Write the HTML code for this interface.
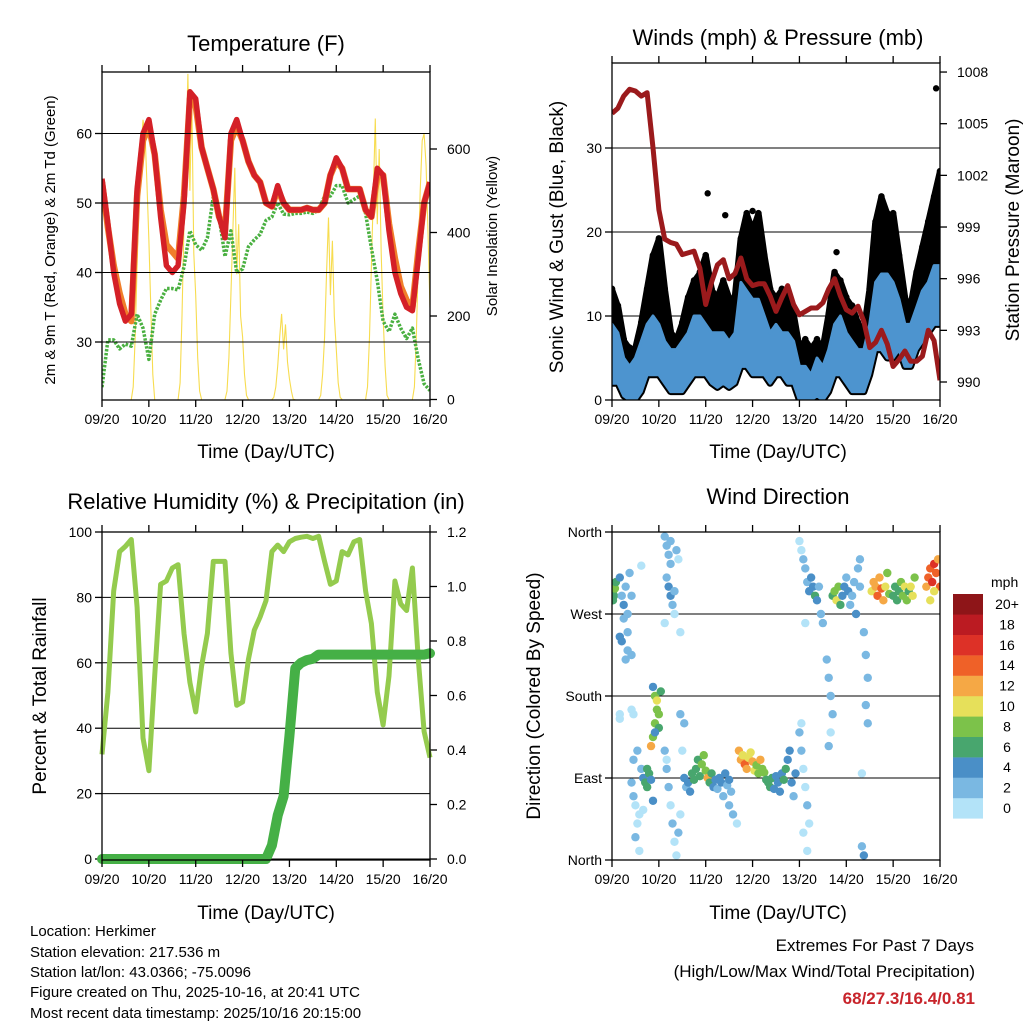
<!DOCTYPE html>
<html><head><meta charset="utf-8"><style>
html,body{margin:0;padding:0;background:#fff;}
svg{display:block;font-family:"Liberation Sans",Arial,sans-serif;}
</style></head><body>
<svg id="fig" width="1024" height="1024" viewBox="0 0 1024 1024" xmlns="http://www.w3.org/2000/svg">
<defs>
<clipPath id="cT"><rect x="102" y="72" width="328" height="328"/></clipPath>
<clipPath id="cW"><rect x="612" y="63" width="328" height="337"/></clipPath>
<clipPath id="cR"><rect x="90" y="525" width="350" height="345"/></clipPath>
<clipPath id="cD"><rect x="612" y="532" width="328" height="328"/></clipPath>
</defs>
<g id="gT"></g>
<g id="gW"></g>
<g id="gR"></g>
<g id="gD"></g>
<g font-size="22" text-anchor="middle" fill="#000">
<text x="266" y="51">Temperature (F)</text>
<text x="778" y="45">Winds (mph) &amp; Pressure (mb)</text>
<text x="266" y="509">Relative Humidity (%) &amp; Precipitation (in)</text>
<text x="778" y="504">Wind Direction</text>
</g>
<g font-size="19" text-anchor="middle">
<text x="266" y="458">Time (Day/UTC)</text>
<text x="778" y="458">Time (Day/UTC)</text>
<text x="266" y="919">Time (Day/UTC)</text>
<text x="778" y="919">Time (Day/UTC)</text>
<text font-size="15" transform="translate(55,240) rotate(-90)">2m &amp; 9m T (Red, Orange) &amp; 2m Td (Green)</text>
<text font-size="15" transform="translate(497,236) rotate(-90)">Solar Insolation (Yellow)</text>
<text transform="translate(563,237) rotate(-90)">Sonic Wind &amp; Gust (Blue, Black)</text>
<text transform="translate(1019,230) rotate(-90)">Station Pressure (Maroon)</text>
<text transform="translate(46,696) rotate(-90)">Percent &amp; Total Rainfall</text>
<text transform="translate(540,696) rotate(-90)">Direction (Colored By Speed)</text>
</g>
<g font-size="15">
<text x="30" y="936">Location: Herkimer</text>
<text x="30" y="957">Station elevation: 217.536 m</text>
<text x="30" y="977">Station lat/lon: 43.0366; -75.0096</text>
<text x="30" y="997">Figure created on Thu, 2025-10-16, at 20:41 UTC</text>
<text x="30" y="1018">Most recent data timestamp: 2025/10/16 20:15:00</text>
</g>
<g font-size="17" text-anchor="end">
<text x="974" y="951">Extremes For Past 7 Days</text>
<text x="975" y="977">(High/Low/Max Wind/Total Precipitation)</text>
<text x="975" y="1004" fill="#c8242b" font-weight="bold">68/27.3/16.4/0.81</text>
</g>
</svg>
<script>
// ---------- data (3-hourly samples from 09/20 UTC) ----------
const dayLabels = ["09/20","10/20","11/20","12/20","13/20","14/20","15/20","16/20"];
const temp2m = [53.5,47,40,35.5,33,34,52,60,62,57,48,41,40,41,50,66,65,58,55,52,48,45,60,62,59,56,54,53,50,49.5,52.5,50,49,49,49,49.3,49,49,50,54,56.5,55,52,52,52,49,48,55,54,46,40,37,35,34.5,42,50,53];
const temp9m = [53,46.5,41,37,34,33,51,59,61,57,49,44,43,42,51,65,64,58,55,52,48,46,59,61,59,56,54,53,50,49.5,52,50,49,49,49,49.3,49,49,50,54,56,55,52,52,52,49,48,54,54,47,42,38,36,35,43,50,53];
const dewpt = [23.5,30.3,30.3,29,29.7,29.4,34,32,27.5,34,36,37.7,37.7,37.5,40.8,46,44,43.2,45,50.9,48,42.3,46,40,40.5,43.7,44.7,45.5,47.5,48,50,48.4,48.3,48.5,48.5,48.7,48.5,49,51,51,52.5,52.5,50,50.5,51,48.5,43.5,38.8,33,31.5,34,32,30.5,32,27.5,24,23];
const solarDays = [
 [0,30,150,320,480,600,670,640,520,380,220,60,0],
 [0,40,200,420,600,780,500,720,350,250,100,20,0],
 [0,20,100,250,400,555,300,420,200,150,60,10,0],
 [0,5,30,80,150,205,120,180,90,50,20,0,0],
 [0,10,60,150,300,436,250,380,200,120,40,5,0],
 [0,30,150,320,500,673,420,600,350,200,80,10,0],
 [0,30,150,330,500,620,637,560,400,220,80,10,0]];
const tempTicks = [30,40,50,60];
const solarTicks = [0,200,400,600];

const windLo = [2,2,0.5,0,0,1,3,3,3,2,1,1,1,2,3,3,3,2,1.5,2,1.5,2,4,4,3,3,3,2,3,3,2,2,0,0,0,0.5,0,1,3,3,2,1,1,1,3,6,6,5,5,6,4,4,6,7,8,9,9];
const windHi = [9,8,5,4,5,7,9,10,9,7,6,6,7,8,10,10,9,8,8,8,7,8,14,13,12,12,10,8,9,8,8,7,4,4,3,5,4,6,9,10,8,7,6,6,9,14,15,15,14,12,9,9,11,13,14,16,16];
const gustHi = [13,11,7,6,6,9,13,17,19,13,8,7,9,12,14,15,17,13,12,14,12,12,19,22,20,22,17,13,12,13,12,10,6,7,6,7,6,10,15,14,12,11,9,8,13,21,24,22,22,17,12,11,15,18,21,24,27];
const gustOutT = [49, 58, 72, 115, 166];
const gustOutV = [24.6, 22, 22.5, 17.6, 37.1];
const pressure = [1005.6,1005.9,1006.6,1007,1006.9,1006.6,1006.8,1003.6,1000,998.3,998.1,998,997.4,997.5,997.6,996.6,994.5,995.8,996.8,997.1,996,996.3,997.2,996,995.6,995.7,995.7,995,994.1,994.9,995.6,994.5,993.9,994.1,994.3,994.3,994.6,995.4,996,995,994.2,994,994.4,993.5,992,992.3,993,992.2,990.9,991.3,991.8,991.2,991.2,991.5,993,992.4,990.1];
const windTicks = [0,10,20,30];
const presTicks = [990,993,996,999,1002,1005,1008];

const rh = [32,51,82,94,95.6,97.7,77,37,27,56,84,85,89,90,69,54,45,59,69,91,91,91,63,47,48,61,70,74,79,94,96,94,97,98,98.4,98.7,98,98.7,91,84,85,94,93,97,97.7,82,72,51,41,56,85,78,76,89,61,39,31];
const precip = [0,0,0,0,0,0,0,0,0,0,0,0,0,0,0,0,0,0,0,0,0,0,0,0,0,0,0,0,0,0.05,0.16,0.23,0.45,0.7,0.72,0.73,0.735,0.75,0.75,0.75,0.75,0.75,0.75,0.75,0.75,0.75,0.75,0.75,0.75,0.75,0.75,0.75,0.75,0.75,0.75,0.75,0.755];
const rhTicks = [0,20,40,60,80,100];
const prTicks = ["0.0","0.2","0.4","0.6","0.8","1.0","1.2"];

const dirT = [0,0.5,1,1.5,2,0.5,4,5,6,7,8,9,10,6,8,5,7,10,8,4,15,10,11,12,13,12,14,11,13,15,16,17,18,19,18,20,21,16,14,11,10,4,4,21,22,23,23,24,22,24,21,20,25,22,27,28,29,30,28,29,30,31,32,27,30,33,34,32,35,27,28,29,30,31,32,33,34,28,35,36,37,35,37,38,39,40,41,42,43,44,45,46,47,48,49,50,51,52,53,54,55,56,57,58,59,60,61,60,62,64,65,66,67,68,69,70,71,72,73,74,75,76,77,78,79,80,81,82,83,84,85,86,87,88,89,90,91,92,93,94,96,97,98,99,100,101,98,100,97,96,97,98,99,100,101,102,103,104,105,106,107,108,99,110,111,112,113,112,111,113,114,115,116,117,118,119,120,121,122,123,124,125,126,127,129,130,131,130,131,128,127,128,129,133,134,135,136,137,138,139,140,141,142,144,145,146,147,148,149,150,151,152,153,154,155,161,162,163,164,165,166,167,168,165,163];
const dirD = [300,295,290,298,305,285,310,290,280,300,270,315,290,265,250,240,220,225,230,245,323,85,70,60,40,25,10,110,120,100,90,85,80,95,100,88,65,55,50,160,165,155,160,190,180,175,165,160,150,145,135,125,185,140,355,345,335,325,310,300,290,280,270,260,350,340,330,295,250,120,100,80,60,40,20,5,30,110,50,120,150,160,90,80,85,75,95,88,100,110,92,105,115,98,90,85,95,80,88,78,90,85,70,95,82,88,75,60,50,40,120,110,115,105,100,112,118,108,98,104,95,110,100,96,88,85,80,90,78,92,85,75,95,88,100,110,120,85,70,95,140,120,100,80,60,40,30,10,150,350,340,330,320,305,295,310,300,290,285,300,270,260,260,220,200,180,160,140,125,290,295,285,300,280,290,300,310,295,280,290,305,270,320,300,250,225,200,170,150,95,330,15,5,295,305,300,290,310,298,285,300,315,292,290,300,285,295,305,290,300,285,295,300,290,310,300,310,320,305,325,315,330,300,295,285];
const dirS = [7,8,7,8,6,6,4,3,4,2,3,2,2,2,2,4,2,2,2,4,1,2,2,1,1,2,1,3,2,2,5,6,6,6,7,4,4,1,1,1,1,1,0,5,8,10,9,9,8,7,8,12,7,4,2,2,2,3,3,4,4,3,1,1,2,2,1,3,1,2,3,2,1,2,1,1,2,1,1,1,2,2,4,3,5,4,6,6,7,7,6,8,9,8,12,7,6,5,4,3,5,4,3,4,3,4,3,2,2,1,12,13,11,14,12,11,10,13,10,9,8,12,8,9,6,7,6,6,5,4,4,5,5,7,6,4,5,4,3,4,2,2,1,1,2,1,1,1,1,1,1,2,3,3,4,4,5,6,4,3,3,2,1,2,2,2,2,1,2,7,8,10,9,7,5,4,3,4,2,3,2,4,2,3,2,2,3,2,2,1,2,2,4,10,12,13,14,12,14,13,11,9,8,6,7,6,7,8,9,10,8,7,10,11,8,12,14,15,16,17,15,12,14,11,10];
const speedColors = ["#b3e3f8","#7ab8e2","#4a8fc7","#48a66e","#7cc24a","#e6e05a","#f5a845","#ef6128","#dd3127","#bb1b22","#8e1518"];
const speedLabels = ["0","2","4","6","8","10","12","14","16","18","20+"];
const dirTicks = [0,90,180,270,360];
const dirTickLabels = ["North","East","South","West","North"];

// ---------- helpers ----------
const NS = "http://www.w3.org/2000/svg";
function mk(parent, tag, attrs) {
  const e = document.createElementNS(NS, tag);
  for (const k in attrs) e.setAttribute(k, attrs[k]);
  parent.appendChild(e);
  return e;
}
function xAt(x0, t) { return x0 + t / 168 * 328; }
function path(pts) { return pts.map((p, i) => (i ? "L" : "M") + p[0].toFixed(1) + " " + p[1].toFixed(1)).join(""); }

function frame(g, x0, top, bottom, name) {
  const r = mk(g, "rect", {x: x0, y: top, width: 328, height: bottom - top, fill: "none", stroke: "#000", "stroke-width": 1.3});
  
  
  for (let d = 0; d < dayLabels.length; d++) {
    const x = x0 + d * 328 / 7;
    const tb = mk(g, "line", {x1: x, x2: x, y1: bottom, y2: bottom + 7, stroke: "#000", "stroke-width": 1.3});
    
    
    const tt = mk(g, "line", {x1: x, x2: x, y1: top, y2: top - 7, stroke: "#000", "stroke-width": 1.3});
    
    
    const lb = mk(g, "text", {x: x, y: bottom + 24, "font-size": 14, "text-anchor": "middle"});
    lb.textContent = dayLabels[d];
    
    
  }
}
function yAxis(g, x0, vals, labels, yf, side, grid, name) {
  vals.forEach((v, i) => {
    const y = yf(v);
    const xa = side === "left" ? x0 : x0 + 328;
    const dx = side === "left" ? -7 : 7;
    const t = mk(g, "line", {x1: xa, x2: xa + dx, y1: y, y2: y, stroke: "#000", "stroke-width": 1.3});
    
    
    if (grid) {
      const gl = mk(g, "line", {x1: x0, x2: x0 + 328, y1: y, y2: y, stroke: "#000", "stroke-width": 1});
      
      
    }
    const lb = mk(g, "text", {x: side === "left" ? x0 - 10 : x0 + 345, y: y + 5, "font-size": 14, "text-anchor": side === "left" ? "end" : "start"});
    lb.textContent = labels[i];
    
    
  });
}

// ---------- Temperature panel ----------
(function(){
  const g = document.getElementById("gT"), X0 = 102;
  const yT = v => 342 - (v - 30) * 6.95;
  const yS = w => 399.5 - w * 83.5 / 200;
  const gc = mk(g, "g", {"clip-path": "url(#cT)"});
  
  
  solarDays.forEach((day, d) => {
    const pts = [];
    day.forEach((w, i) => { const t = 4 + 24 * d + 11 + i; if (t <= 168) pts.push([xAt(X0, t), yS(w)]); });
    const p = mk(gc, "path", {d: path(pts), fill: "none", stroke: "#f7dc4f", "stroke-width": 1.1});
    
    
  });
  yAxis(g, X0, tempTicks, tempTicks, yT, "left", true, "temp-y");
  yAxis(g, X0, solarTicks, solarTicks, yS, "right", false, "solar-y");
  const dp = mk(gc, "path", {d: path(dewpt.map((v, i) => [xAt(X0, i * 3), yT(v)])), fill: "none", stroke: "#4ab041", "stroke-width": 3.5, "stroke-dasharray": "2.5 1.5", "stroke-linejoin": "round"});
  
  
  const o = mk(gc, "path", {d: path(temp9m.map((v, i) => [xAt(X0, i * 3), yT(v)])), fill: "none", stroke: "#f07e2a", "stroke-width": 6.5, "stroke-linejoin": "round"});
  
  
  const r = mk(gc, "path", {d: path(temp2m.map((v, i) => [xAt(X0, i * 3), yT(v)])), fill: "none", stroke: "#d42027", "stroke-width": 5.5, "stroke-linejoin": "round"});
  
  
  frame(g, X0, 72, 400, "temperature");
})();

// ---------- Winds panel ----------
(function(){
  const g = document.getElementById("gW"), X0 = 612;
  const yW = v => 400 - v * 8.4;
  const yP = p => 382 - (p - 990) * 17.22;
  yAxis(g, X0, windTicks, windTicks, yW, "left", true, "wind-y");
  yAxis(g, X0, presTicks, presTicks, yP, "right", false, "pressure-y");
  const gc = mk(g, "g", {"clip-path": "url(#cW)"});
  
  
  const top = gustHi.map((v, i) => [xAt(X0, i * 3), yW(v)]);
  const bot = windLo.map((v, i) => [xAt(X0, i * 3), yW(v)]).reverse();
  const gb = mk(gc, "path", {d: path(top.concat(bot)) + "Z", fill: "#000", stroke: "#000", "stroke-width": 7, "stroke-linejoin": "round"});
  
  
  gustHi.forEach((v, i) => {
    const c = mk(gc, "circle", {cx: xAt(X0, i * 3), cy: yW(v) - 2, r: 3.3, fill: "#000"});
    
    
  });
  gustOutT.forEach((t, i) => {
    const c = mk(gc, "circle", {cx: xAt(X0, t), cy: yW(gustOutV[i]), r: 3.2, fill: "#000"});
    
    
  });
  const top2 = windHi.map((v, i) => [xAt(X0, i * 3), yW(v)]);
  const wb = mk(gc, "path", {d: path(top2.concat(bot)) + "Z", fill: "#4d94cf", stroke: "#4d94cf", "stroke-width": 3, "stroke-linejoin": "round"});
  
  
  const p = mk(gc, "path", {d: path(pressure.map((v, i) => [xAt(X0, i * 3), yP(v)])), fill: "none", stroke: "#9b1a1c", "stroke-width": 5, "stroke-linejoin": "round"});
  
  
  frame(g, X0, 63, 400, "winds");
})();

// ---------- Humidity panel ----------
(function(){
  const g = document.getElementById("gR"), X0 = 102;
  const yR = v => 859 - v * 3.27;
  const yPr = p => 859 - p * 272.5;
  yAxis(g, X0, rhTicks, rhTicks, yR, "left", true, "humidity-y");
  yAxis(g, X0, prTicks.map(Number), prTicks, yPr, "right", false, "precip-y");
  const gc = mk(g, "g", {"clip-path": "url(#cR)"});
  
  
  const l = mk(gc, "path", {d: path(rh.map((v, i) => [xAt(X0, i * 3), yR(v)])), fill: "none", stroke: "#94cb4e", "stroke-width": 5, "stroke-linejoin": "round"});
  
  
  const pr = mk(gc, "path", {d: path(precip.map((v, i) => [xAt(X0, i * 3), yPr(v)])), fill: "none", stroke: "#45b046", "stroke-width": 10, "stroke-linejoin": "round", "stroke-linecap": "round"});
  
  
  frame(g, X0, 532, 860, "humidity");
})();

// ---------- Wind direction panel ----------
(function(){
  const g = document.getElementById("gD"), X0 = 612;
  const yD = d => 860 - d * 328 / 360;
  yAxis(g, X0, dirTicks, dirTickLabels, yD, "left", true, "direction-y");
  const gc = mk(g, "g", {"clip-path": "url(#cD)"});
  
  
  dirT.forEach((t, i) => {
    const s = dirS[i];
    const ci = Math.min(10, Math.floor(s / 2));
    const c = mk(gc, "circle", {cx: xAt(X0, t), cy: yD(dirD[i]), r: 4.2, fill: speedColors[ci]});
    
    
  });
  frame(g, X0, 532, 860, "direction");
  const lg = mk(g, "g", {});
  
  
  const mt = mk(lg, "text", {x: 991, y: 587, "font-size": 14});
  mt.textContent = "mph";
  
  
  for (let i = 0; i < 11; i++) {
    const y = 594 + (10 - i) * 20.4;
    const b = mk(lg, "rect", {x: 953, y: y, width: 30, height: 20.6, fill: speedColors[i]});
    
    
    const tx = mk(lg, "text", {x: 1007, y: y + 15, "font-size": 14, "text-anchor": "middle"});
    tx.textContent = speedLabels[i];
    
    
  }
})();
</script>
</body></html>
